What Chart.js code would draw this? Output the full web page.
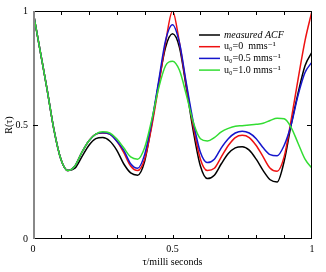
<!DOCTYPE html>
<html>
<head>
<meta charset="utf-8">
<script src="https://cdn.jsdelivr.net/npm/chart.js@4.4.1/dist/chart.umd.min.js"></script>
<style>
  html, body { margin: 0; padding: 0; background: #fff; }
  #wrap { width: 326px; height: 272px; position: relative; }
</style>
</head>
<body>
<div id="wrap"><canvas id="acfChart"></canvas></div>
<script>
// data
const tau = [0, 0.025, 0.05, 0.075, 0.1, 0.125, 0.15, 0.175, 0.2, 0.225, 0.25, 0.275, 0.3, 0.325, 0.35, 0.375, 0.4, 0.425, 0.45, 0.475, 0.5,
  0.525, 0.55, 0.575, 0.6, 0.625, 0.65, 0.675, 0.7, 0.725, 0.75, 0.775, 0.8, 0.825, 0.85, 0.875, 0.9, 0.925, 0.95, 0.975, 1];

const measured = [1.00, 0.83, 0.66, 0.48, 0.35, 0.30, 0.31, 0.36, 0.41, 0.44, 0.445, 0.43, 0.39, 0.33, 0.29, 0.28, 0.34, 0.50, 0.68, 0.84, 0.90,
  0.84, 0.66, 0.47, 0.32, 0.265, 0.28, 0.33, 0.375, 0.40, 0.405, 0.39, 0.35, 0.30, 0.26, 0.25, 0.34, 0.50, 0.64, 0.76, 0.82];
const u00 = [1.00, 0.83, 0.66, 0.48, 0.35, 0.30, 0.32, 0.38, 0.43, 0.46, 0.465, 0.46, 0.43, 0.38, 0.32, 0.30, 0.35, 0.49, 0.67, 0.86, 1.00,
  0.86, 0.67, 0.49, 0.35, 0.30, 0.31, 0.36, 0.41, 0.445, 0.455, 0.445, 0.41, 0.36, 0.31, 0.297, 0.36, 0.52, 0.70, 0.87, 1.00];
const u05 = [1.00, 0.83, 0.66, 0.48, 0.35, 0.30, 0.32, 0.38, 0.43, 0.46, 0.466, 0.46, 0.43, 0.39, 0.33, 0.31, 0.37, 0.51, 0.69, 0.87, 0.94,
  0.86, 0.68, 0.51, 0.38, 0.335, 0.35, 0.40, 0.44, 0.465, 0.473, 0.465, 0.44, 0.40, 0.37, 0.365, 0.41, 0.50, 0.63, 0.73, 0.776];
const u10 = [1.00, 0.83, 0.66, 0.48, 0.35, 0.30, 0.32, 0.38, 0.43, 0.46, 0.47, 0.465, 0.44, 0.40, 0.36, 0.35, 0.40, 0.52, 0.66, 0.76, 0.78,
  0.74, 0.63, 0.51, 0.44, 0.43, 0.445, 0.47, 0.485, 0.495, 0.497, 0.50, 0.503, 0.508, 0.52, 0.53, 0.527, 0.49, 0.42, 0.35, 0.31];

const seriesNames = ['measured ACF', 'u\u2080=0  mms\u207B\u00B9', 'u\u2080=0.5 mms\u207B\u00B9', 'u\u2080=1.0 mms\u207B\u00B9'];
const seriesColors = ['#000000', '#ee1111', '#1515cc', '#33dd33'];
const xMinorTicks = [0.1, 0.2, 0.3, 0.4, 0.5, 0.6, 0.7, 0.8, 0.9];
const yMinorTicks = [0.5];
const axisLabels = { 0: '0', 0.5: '0.5', 1: '1' };

const FONT = '"Liberation Serif", "DejaVu Serif", serif';

function toPoints(vals) {
  return tau.map((t, i) => ({ x: t, y: vals[i] }));
}

// frame, inward ticks and legend drawn on top
const framePlugin = {
  id: 'frame',
  afterDraw(chart) {
    const c = chart.ctx;
    const a = chart.chartArea;
    const xs = chart.scales.x, ys = chart.scales.y;
    c.save();
    c.strokeStyle = '#000';
    c.lineWidth = 1;
    c.beginPath();
    c.moveTo(a.left, a.top + 0.5); c.lineTo(a.right, a.top + 0.5);
    c.moveTo(a.right - 0.5, a.top); c.lineTo(a.right - 0.5, a.bottom);
    c.moveTo(a.left, a.bottom - 0.5); c.lineTo(a.right, a.bottom - 0.5);
    c.stroke();
    c.strokeStyle = '#888';
    c.lineWidth = 2;
    c.beginPath();
    c.moveTo(a.left + 1, a.top); c.lineTo(a.left + 1, a.bottom);
    c.stroke();

    c.strokeStyle = '#000';
    c.lineWidth = 1;
    c.beginPath();
    xMinorTicks.forEach(v => {
      const px = Math.round(xs.getPixelForValue(v)) + 0.5;
      c.moveTo(px, a.bottom); c.lineTo(px, a.bottom - 4);
      c.moveTo(px, a.top); c.lineTo(px, a.top + 4);
    });
    yMinorTicks.forEach(v => {
      const py = Math.round(ys.getPixelForValue(v)) + 0.5;
      c.moveTo(a.left, py); c.lineTo(a.left + 5, py);
      c.moveTo(a.right, py); c.lineTo(a.right - 5, py);
    });
    c.stroke();

    // legend
    const lx = 199, ly = 35, step = 11.7;
    c.textBaseline = 'middle';
    c.textAlign = 'left';
    chart.data.datasets.forEach((ds, i) => {
      const y = ly + i * step;
      c.strokeStyle = ds.borderColor;
      c.lineWidth = 1.5;
      c.beginPath();
      c.moveTo(lx, y); c.lineTo(lx + 21, y);
      c.stroke();
      c.fillStyle = '#000';
      c.font = (i === 0 ? 'italic ' : '') + '10px ' + FONT;
      c.fillText(ds.label, lx + 25, y);
    });
    c.restore();
  }
};

const ctx = document.getElementById('acfChart').getContext('2d');
new Chart(ctx, {
  type: 'line',
  data: {
    datasets: [measured, u00, u05, u10].map((vals, i) => ({
      label: seriesNames[i],
      data: toPoints(vals),
      borderColor: seriesColors[i],
      borderWidth: 1.5,
      pointRadius: 0,
      fill: false,
      cubicInterpolationMode: 'monotone',
      order: i === 3 ? 0 : 4 - i
    }))
  },
  options: {
    responsive: true,
    maintainAspectRatio: false,
    animation: false,
    layout: { padding: { left: 0, right: 14, top: 8, bottom: 0 } },
    plugins: { legend: { display: false }, tooltip: { enabled: false } },
    scales: {
      x: {
        type: 'linear', min: 0, max: 1,
        grid: { display: false, drawTicks: false }, border: { display: false },
        ticks: { stepSize: 0.5, padding: 4, color: '#000', font: { family: FONT, size: 10 }, maxRotation: 0,
          callback: v => axisLabels[v] },
        title: { display: true, text: '\u03C4/milli seconds', color: '#000', font: { family: FONT, size: 10 }, padding: { top: 2, bottom: 4 } },
        afterFit(s) { s.height = 33; }
      },
      y: {
        min: 0, max: 1,
        grid: { display: false, drawTicks: false }, border: { display: false },
        ticks: { stepSize: 0.5, padding: 5, color: '#000', font: { family: FONT, size: 10 },
          callback: v => axisLabels[v] },
        title: { display: true, text: 'R(\u03C4)', color: '#000', font: { family: FONT, size: 10 }, padding: { top: 3, bottom: 0 } },
        afterFit(s) { s.width = 33; }
      }
    }
  },
  plugins: [framePlugin]
});
</script>
</body>
</html>
